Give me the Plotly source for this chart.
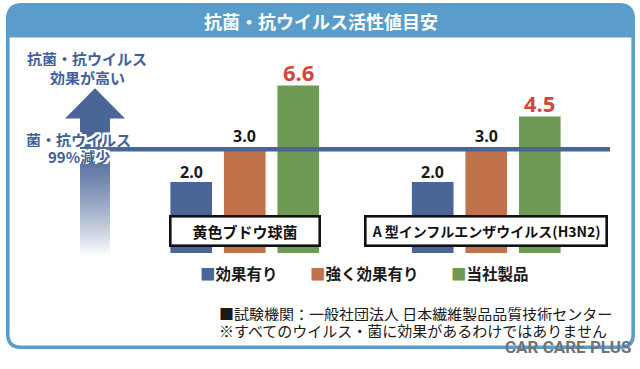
import math
import plotly.graph_objects as go

# ---------------- data ----------------
categories = ["黄色ブドウ球菌", "A 型インフルエンザウイルス(H3N2)"]
series_names = ["効果有り", "強く効果有り", "当社製品"]
effective = [2.0, 2.0]
strongly_effective = [3.0, 3.0]
our_product = [6.6, 4.5]
threshold_value = 3.0
title_text = "抗菌・抗ウイルス活性値目安"
notes = ["■試験機関：一般社団法人 日本繊維製品品質技術センター",
         "※すべてのウイルス・菌に効果があるわけではありません"]

# ---------------- geometry helpers ----------------
W, H = 640, 369
ML, MR, MT, MB = 124, 33, 40, 116
PW = W - ML - MR
PH = H - MT - MB
BOT = H - MB
BARGAP, BARGROUPGAP = 0.335, 0.222


def px2x(px):
    return (px - ML) / PW


def py2y(py):
    return (BOT - py) / PH


def path_from(points_cmds):
    out = []
    for cmd, pts in points_cmds:
        s = cmd
        for (a, b) in pts:
            s += f" {px2x(a):.5f},{py2y(b):.5f}"
        out.append(s)
    return " ".join(out) + " Z"


def rounded_rect(x0, y0, x1, y1, rt, rb):
    return path_from([
        ("M", [(x0 + rt, y0)]),
        ("L", [(x1 - rt, y0)]),
        ("Q", [(x1, y0), (x1, y0 + rt)]),
        ("L", [(x1, y1 - rb)]),
        ("Q", [(x1, y1), (x1 - rb, y1)]),
        ("L", [(x0 + rb, y1)]),
        ("Q", [(x0, y1), (x0, y1 - rb)]),
        ("L", [(x0, y0 + rt)]),
        ("Q", [(x0, y0), (x0 + rt, y0)]),
    ])


FRAME = "#5a9dcb"
BLUE = "#4a6597"
COLORS = ["#4a6597", "#c0724b", "#6e9a56"]
JP = "Noto Sans CJK JP"
NUM = "Open Sans"

fig = go.Figure()
series = [effective, strongly_effective, our_product]
for name, vals, c in zip(series_names, series, COLORS):
    fig.add_trace(go.Bar(x=categories, y=vals, name=name, showlegend=False,
                         marker=dict(color=c, line=dict(width=0)), hoverinfo="skip"))

shapes = []
# frame
shapes.append(dict(type="path", xref="paper", yref="paper", layer="below",
                   path=rounded_rect(7.8, 6, 633.2, 347.2, 15, 13),
                   line=dict(color=FRAME, width=3.6), fillcolor="rgba(0,0,0,0)"))
shapes.append(dict(type="path", xref="paper", yref="paper", layer="below",
                   path=rounded_rect(6, 3, 635, 37.5, 16, 0),
                   line=dict(width=0), fillcolor=FRAME))
# threshold line
shapes.append(dict(type="line", xref="paper", yref="y", layer="above",
                   x0=px2x(108), x1=px2x(610), y0=threshold_value, y1=threshold_value,
                   line=dict(color=BLUE, width=4.6)))
# arrow head + solid shaft
shapes.append(dict(type="path", xref="paper", yref="paper", layer="above",
                   path=path_from([("M", [(65, 118.5)]), ("L", [(95, 88.3)]), ("L", [(125, 118.5)]),
                                   ("L", [(110, 118.5)]), ("L", [(110, 141)]), ("L", [(80, 141)]),
                                   ("L", [(80, 118.5)])]),
                   line=dict(width=0), fillcolor=BLUE))
# gradient shaft
top, bottom, step = 140, 256, 2
c0 = (74, 101, 151)
y = top
while y < bottom:
    t = ((y - top) / (bottom - top)) ** 1.35
    col = tuple(round(c0[k] * (1 - t) + 255 * t) for k in range(3))
    shapes.append(dict(type="rect", xref="paper", yref="paper", layer="above",
                       x0=px2x(80), x1=px2x(110), y0=py2y(y), y1=py2y(y + step + 0.6),
                       line=dict(width=0), fillcolor=f"rgb{col}"))
    y += step

ann = []
# title
ann.append(dict(xref="paper", yref="paper", x=px2x(320.5), y=py2y(21.5), text=f"<b>{title_text}</b>",
                showarrow=False, xanchor="center", yanchor="middle",
                font=dict(family=JP, size=18, color="white")))
# value labels
slot = (1 - BARGAP) / 3
label_styles = [dict(size=16, color="#1a1a1a", shift=10),
                dict(size=16, color="#1a1a1a", shift=13),
                dict(size=22, color="#d2473b", shift=13.5)]
for j, vals in enumerate(series):
    st = label_styles[j]
    for i, v in enumerate(vals):
        ann.append(dict(xref="x", yref="y", x=i + (j - 1) * slot, y=math.log10(v),
                        text=f"<b>{v:.1f}</b>", showarrow=False, xanchor="center", yanchor="middle",
                        yshift=st["shift"], font=dict(family=NUM, size=st["size"], color=st["color"])))
# category boxes
box_widths = [147, 239]
box_font = [15, 14]
for i, cat in enumerate(categories):
    ann.append(dict(xref="x", yref="paper", x=cat, y=py2y(231), text=f"<b>{cat}</b>",
                    showarrow=False, xanchor="center", yanchor="middle",
                    width=box_widths[i], height=27, borderwidth=2.6, borderpad=0,
                    bordercolor="#111", bgcolor="white",
                    font=dict(family=JP, size=box_font[i], color="#111")))
# left side texts
halo = ", ".join(f"{dx}px {dy}px 0 #fff" for dx in (-2, -1, 0, 1, 2) for dy in (-2, -1, 0, 1, 2)
                 if (dx, dy) != (0, 0))
side_texts = [("抗菌・抗ウイルス", 86.5, 59), ("効果が高い", 87.5, 77.5),
              ("菌・抗ウイルス", 78, 139), ("99%減少", 78.5, 156)]
for txt, cx, cy in side_texts:
    ann.append(dict(xref="paper", yref="paper", x=px2x(cx), y=py2y(cy), text=f"<b>{txt}</b>",
                    showarrow=False, xanchor="center", yanchor="middle", height=15,
                    font=dict(family=JP, size=15, color="#41609a", shadow=halo)))
# legend
legend_x = [197.5, 307.5, 448.5]
for name, c, lx in zip(series_names, COLORS, legend_x):
    ann.append(dict(xref="paper", yref="paper", x=px2x(lx), y=py2y(273),
                    text=f"<b><span style='color:{c}'>■</span>{name}</b>",
                    showarrow=False, xanchor="left", yanchor="middle",
                    font=dict(family=JP, size=15.5, color="#1a1a1a")))
# notes
for txt, ny in zip(notes, [313.7, 330.5]):
    ann.append(dict(xref="paper", yref="paper", x=px2x(216.8), y=py2y(ny), text=txt,
                    showarrow=False, xanchor="left", yanchor="middle", height=15,
                    font=dict(family=JP, size=15, color="#1a1a1a")))
# watermark
ann.append(dict(xref="paper", yref="paper", x=px2x(568), y=py2y(346.8), text="<b>CAR CARE PLUS</b>",
                showarrow=False, xanchor="center", yanchor="middle", height=13,
                font=dict(family="Roboto", size=17, color="#737373")))

fig.update_layout(
    width=W, height=H, margin=dict(l=ML, r=MR, t=MT, b=MB, pad=0),
    paper_bgcolor="white", plot_bgcolor="rgba(0,0,0,0)",
    barmode="group", bargap=BARGAP, bargroupgap=BARGROUPGAP,
    xaxis=dict(type="category", range=[-0.5, 1.5], visible=False, fixedrange=True),
    yaxis=dict(type="log", range=[-0.08094, 1.06453], visible=False, fixedrange=True),
    shapes=shapes, annotations=ann, showlegend=False,
)

fig.write_html("out.html", config={"displayModeBar": False},
               post_script="document.body.style.margin='0';document.body.style.overflow='hidden';")
